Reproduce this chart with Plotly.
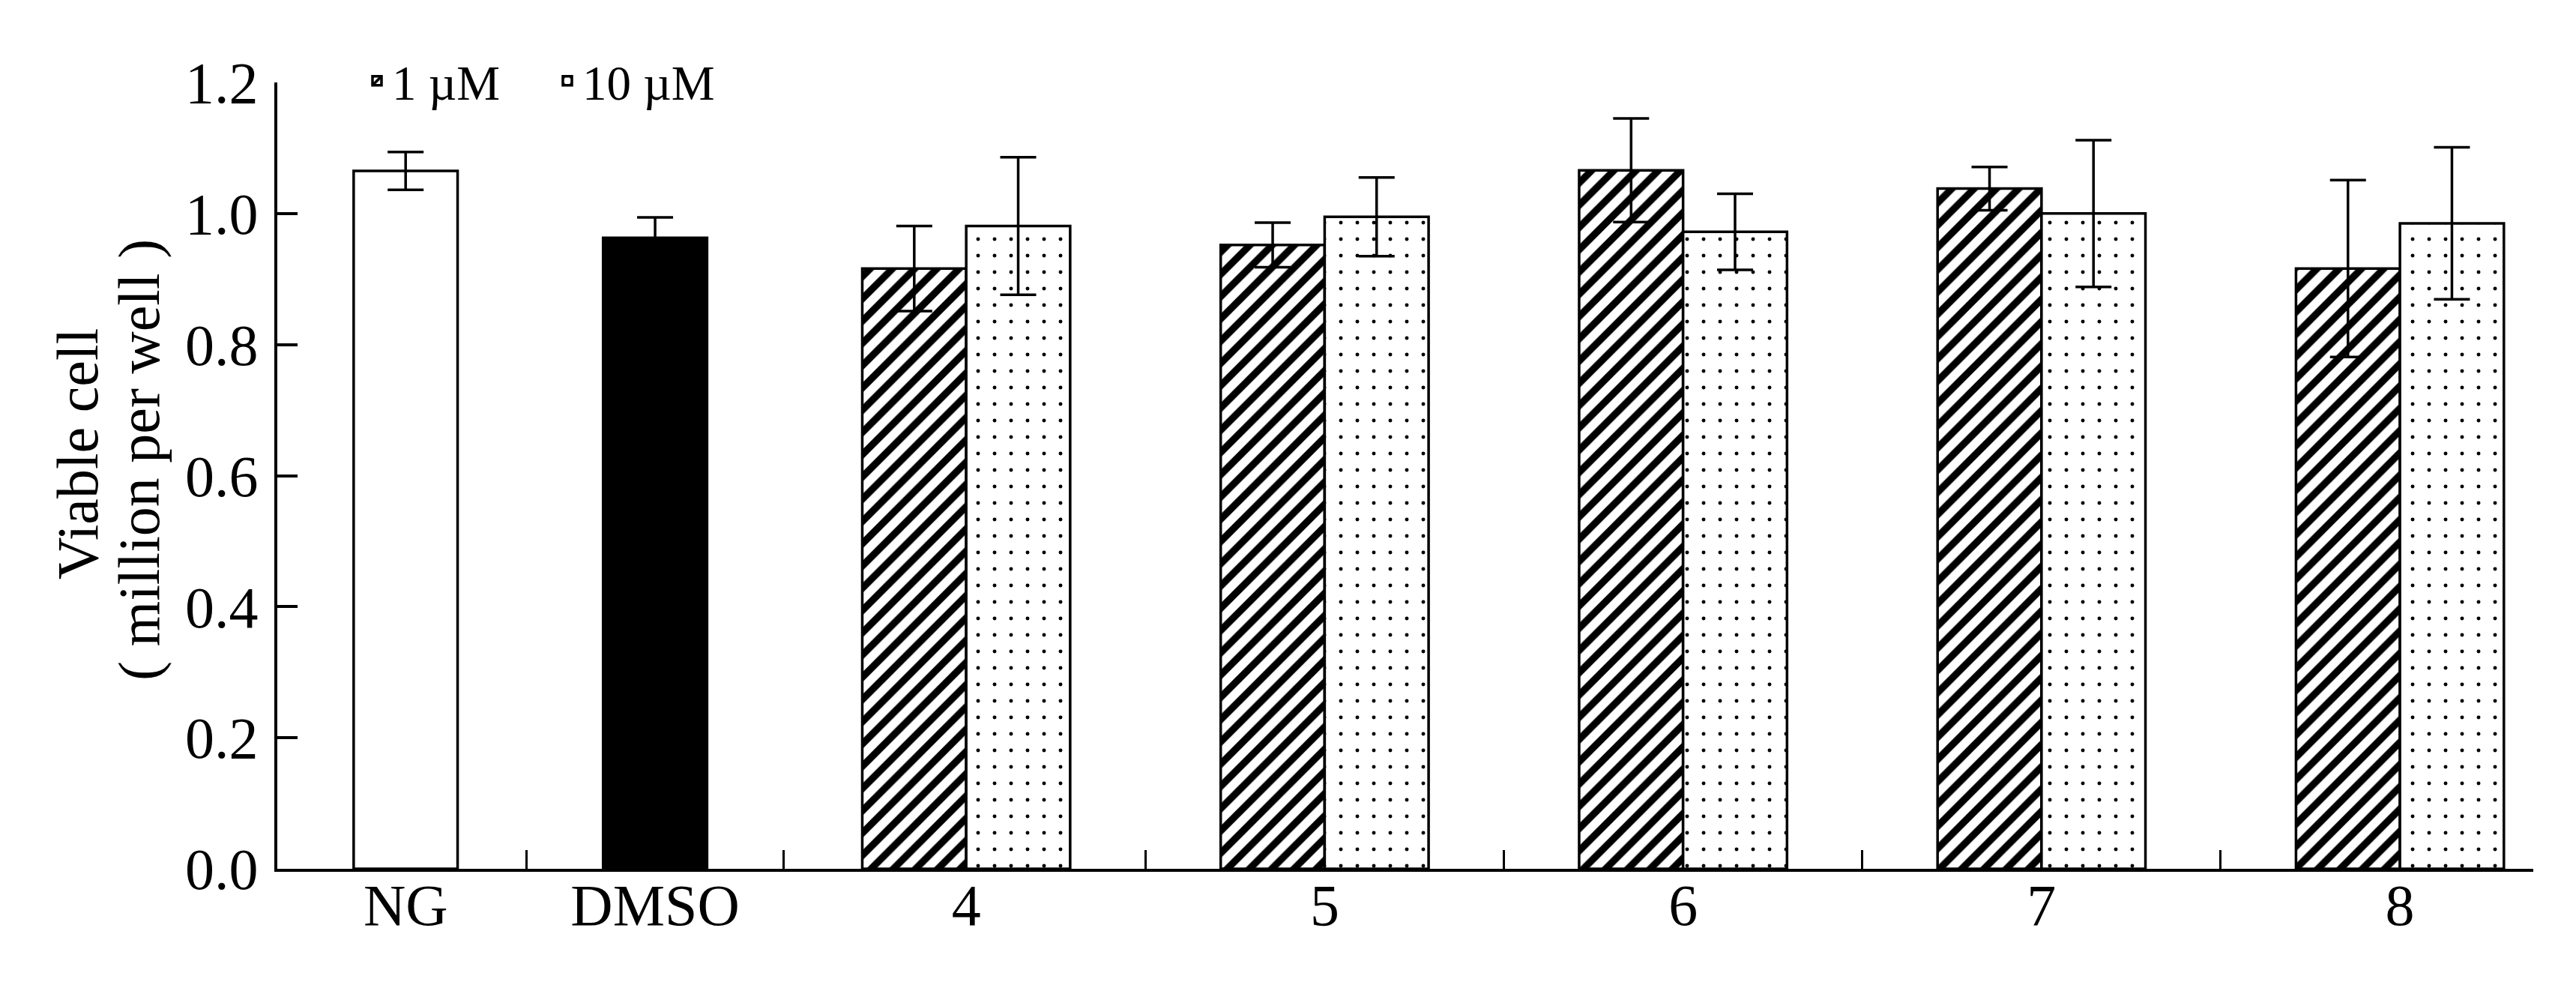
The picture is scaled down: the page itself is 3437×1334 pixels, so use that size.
import plotly.graph_objects as go

# ---- data ----
categories = ["NG", "DMSO", "4", "5", "6", "7", "8"]
control_names = ["NG", "DMSO"]
control_values = [1.065, 0.963]
control_errors = [0.029, 0.031]

compounds = ["4", "5", "6", "7", "8"]
series_names = ["1 µM", "10 µM"]
values_1uM = [0.916, 0.952, 1.066, 1.038, 0.916]
errors_1uM = [0.065, 0.034, 0.079, 0.033, 0.135]
values_10uM = [0.981, 0.995, 0.972, 1.000, 0.985]
errors_10uM = [0.105, 0.060, 0.058, 0.112, 0.116]

y_ticks = [0.0, 0.2, 0.4, 0.6, 0.8, 1.0, 1.2]

# ---- layout of category slots on the x axis ----
control_slots = [1.436, 2.132]
compound_slots = [3 + i for i in range(len(compounds))]
slot_positions = control_slots + compound_slots
separator_ticks = [1.774, 2.491] + [s + 0.5 for s in compound_slots[:-1]]
x_range = [1.078, 7.372]
BW = 0.29

FONT = "Liberation Serif, Times New Roman, serif"
BLACK = "#000000"

# pixel geometry
W, H = 3437, 1334
ML, MR, MT, MB = 362, 65, 60, 140
pw = W - ML - MR
ph = H - MT - MB
AXIS_Y = 1151      # pixel row of y=0
TOP_Y = 102        # pixel row of y=1.2


def py(pix):
    """pixel row -> paper y"""
    return (H - MB - pix) / ph


def px(pix):
    return (pix - ML) / pw


fig = go.Figure()

err_style = dict(type="data", visible=True, color=BLACK, thickness=3.5, width=24)
OUT = dict(color=BLACK, width=3.5)

fig.add_trace(go.Bar(
    x=[control_slots[0]], y=[control_values[0]], width=BW,
    marker=dict(color="white", line=OUT),
    error_y=dict(array=[control_errors[0]], **err_style),
    showlegend=False, name=control_names[0]))
fig.add_trace(go.Bar(
    x=[control_slots[1]], y=[control_values[1]], width=BW,
    marker=dict(color=BLACK, line=OUT),
    error_y=dict(array=[control_errors[1]], **err_style),
    showlegend=False, name=control_names[1]))

fig.add_trace(go.Bar(
    x=compound_slots, y=values_1uM, width=BW, offset=-BW,
    name=series_names[0],
    marker=dict(color="white", line=OUT,
                pattern=dict(shape="/", fgcolor=BLACK, bgcolor="white",
                             fgopacity=1, size=21, solidity=0.45,
                             fillmode="replace")),
    error_y=dict(array=errors_1uM, **err_style)))
fig.add_trace(go.Bar(
    x=compound_slots, y=values_10uM, width=BW, offset=0,
    name=series_names[1],
    marker=dict(color="white", line=OUT,
                pattern=dict(shape=".", fgcolor=BLACK, bgcolor="white",
                             fgopacity=1, size=22, solidity=0.04,
                             fillmode="replace")),
    error_y=dict(array=errors_10uM, **err_style)))

fig.update_layout(
    width=W, height=H,
    margin=dict(l=ML, r=MR, t=MT, b=MB, pad=0),
    paper_bgcolor="white", plot_bgcolor="white",
    barmode="overlay",
    font=dict(family=FONT, color=BLACK, size=78),
    showlegend=True,
    legend=dict(orientation="h", x=px(475), xanchor="left",
                y=py(100), yanchor="middle",
                font=dict(family=FONT, size=65),
                entrywidth=209, entrywidthmode="pixels",
                bgcolor="rgba(0,0,0,0)", borderwidth=0, traceorder="normal"),
    # main x axis: line + separator ticks
    xaxis=dict(range=x_range, tickmode="array", tickvals=separator_ticks,
               ticks="inside", ticklen=25, tickwidth=3, tickcolor=BLACK,
               showticklabels=False, showline=True, linecolor=BLACK,
               linewidth=4, showgrid=False, zeroline=False),
    # category labels
    xaxis2=dict(range=x_range, overlaying="x", anchor="free",
                position=py(AXIS_Y - 4), side="bottom",
                tickmode="array", tickvals=slot_positions, ticktext=categories,
                ticks="", showline=False, showgrid=False, zeroline=False,
                tickfont=dict(family=FONT, size=78)),
    yaxis=dict(range=[0, 1.2], domain=[py(AXIS_Y), py(TOP_Y)],
               tickmode="array", tickvals=y_ticks,
               ticktext=[f"{v:.1f}" for v in y_ticks],
               ticks="inside", ticklen=27, tickwidth=4, tickcolor=BLACK,
               showline=True, linecolor=BLACK, linewidth=4,
               showgrid=False, zeroline=False, ticklabelstandoff=6,
               tickfont=dict(family=FONT, size=78)),
)

# invisible helper trace so xaxis2 is rendered with its labels
fig.add_trace(go.Scatter(x=[slot_positions[0]], y=[0], xaxis="x2", yaxis="y",
                         mode="markers", marker=dict(opacity=0),
                         showlegend=False, hoverinfo="skip"))

# y-axis title (two lines, tight spacing)
fig.add_annotation(text="Viable cell", textangle=-90, xref="paper", yref="paper",
                   x=px(95), y=py(598), xanchor="center",
                   yanchor="middle", showarrow=False,
                   font=dict(family=FONT, size=78, color=BLACK))
fig.add_annotation(text="( million per well )", textangle=-90, xref="paper",
                   yref="paper", x=px(177), y=py(606),
                   xanchor="center", yanchor="middle", showarrow=False,
                   font=dict(family=FONT, size=78, color=BLACK))

fig.write_html("out.html")
